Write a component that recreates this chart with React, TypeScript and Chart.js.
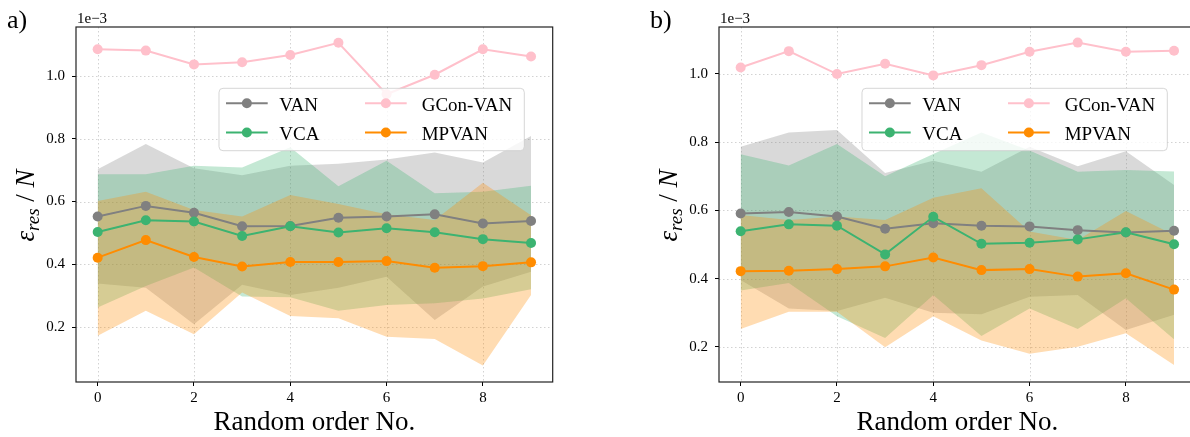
import React, { useEffect, useRef } from "react";
import { Chart, registerables } from "chart.js";

Chart.register(...registerables);

const FONT = '"Liberation Serif", "Times New Roman", serif';

// ---------- data ----------
const xValues = [0, 1, 2, 3, 4, 5, 6, 7, 8, 9];
const xTicks = [0, 2, 4, 6, 8];
const yTicks = [0.2, 0.4, 0.6, 0.8, 1.0];
const seriesNames = ["VAN", "VCA", "GCon-VAN", "MPVAN"];
const seriesColors = ["#808080", "#3CB371", "#FFC0CB", "#FF8C00"];
const bandColors = ["rgba(128,128,128,0.3)", "rgba(60,179,113,0.3)", "rgba(255,192,203,0.3)", "rgba(255,140,0,0.3)"];

// panel a)
const aVAN = [0.552, 0.586, 0.564, 0.521, 0.522, 0.548, 0.552, 0.559, 0.530, 0.538];
const aVCA = [0.503, 0.540, 0.536, 0.490, 0.521, 0.501, 0.515, 0.502, 0.480, 0.468];
const aGCon = [1.085, 1.081, 1.037, 1.044, 1.067, 1.106, 0.942, 1.004, 1.085, 1.062];
const aMPVAN = [0.421, 0.477, 0.423, 0.393, 0.407, 0.407, 0.410, 0.389, 0.394, 0.406];
const aVANHi = [0.703, 0.783, 0.706, 0.684, 0.714, 0.720, 0.734, 0.756, 0.724, 0.809];
const aVANLo = [0.339, 0.325, 0.209, 0.335, 0.302, 0.325, 0.360, 0.222, 0.329, 0.376];
const aVCAHi = [0.687, 0.687, 0.714, 0.708, 0.773, 0.649, 0.730, 0.626, 0.631, 0.650];
const aVCALo = [0.262, 0.331, 0.390, 0.297, 0.295, 0.252, 0.270, 0.276, 0.291, 0.320];
const aMPHi = [0.602, 0.631, 0.573, 0.552, 0.621, 0.592, 0.559, 0.541, 0.660, 0.556];
const aMPLo = [0.172, 0.252, 0.177, 0.310, 0.235, 0.228, 0.169, 0.162, 0.077, 0.302];

// panel b)
const bVAN = [0.591, 0.595, 0.582, 0.546, 0.562, 0.555, 0.553, 0.542, 0.535, 0.540];
const bVCA = [0.539, 0.559, 0.555, 0.471, 0.581, 0.502, 0.505, 0.515, 0.536, 0.501];
const bGCon = [1.018, 1.066, 0.999, 1.029, 0.995, 1.025, 1.064, 1.091, 1.064, 1.067];
const bMPVAN = [0.422, 0.423, 0.428, 0.436, 0.462, 0.425, 0.428, 0.406, 0.416, 0.368];
const bVANHi = [0.786, 0.828, 0.835, 0.709, 0.745, 0.713, 0.786, 0.729, 0.773, 0.674];
const bVANLo = [0.396, 0.313, 0.305, 0.344, 0.300, 0.296, 0.347, 0.352, 0.250, 0.294];
const bVCAHi = [0.764, 0.731, 0.794, 0.700, 0.765, 0.828, 0.775, 0.713, 0.718, 0.714];
const bVCALo = [0.365, 0.387, 0.290, 0.226, 0.352, 0.232, 0.313, 0.253, 0.343, 0.223];
const bMPHi = [0.586, 0.572, 0.582, 0.572, 0.637, 0.665, 0.538, 0.513, 0.598, 0.528];
const bMPLo = [0.253, 0.303, 0.303, 0.199, 0.290, 0.219, 0.180, 0.201, 0.240, 0.147];

const xTitle = "Random order No.";
const offsetText = "1e\u22123";

type Panel = {
  label: string;
  yMin: number;
  yMax: number;
  means: number[][];
  bands: ([number[], number[]] | null)[];
};

const panelA: Panel = {
  label: "a)",
  yMin: 0.0247,
  yMax: 1.1562,
  means: [aVAN, aVCA, aGCon, aMPVAN],
  bands: [[aVANHi, aVANLo], [aVCAHi, aVCALo], null, [aMPHi, aMPLo]],
};
const panelB: Panel = {
  label: "b)",
  yMin: 0.0975,
  yMax: 1.1367,
  means: [bVAN, bVCA, bGCon, bMPVAN],
  bands: [[bVANHi, bVANLo], [bVCAHi, bVCALo], null, [bMPHi, bMPLo]],
};

const toPts = (arr: number[]) => arr.map((v, i) => ({ x: xValues[i], y: v }));

function buildDatasets(p: Panel) {
  const ds: any[] = [];
  p.bands.forEach((b, i) => {
    if (!b) return;
    ds.push({
      data: toPts(b[0]),
      fill: "+1",
      backgroundColor: bandColors[i],
      borderColor: "rgba(0,0,0,0)",
      borderWidth: 0,
      pointRadius: 0,
      order: 20 - i,
    });
    ds.push({
      data: toPts(b[1]),
      fill: false,
      borderColor: "rgba(0,0,0,0)",
      borderWidth: 0,
      pointRadius: 0,
      order: 20 - i,
    });
  });
  p.means.forEach((m, i) => {
    ds.push({
      label: seriesNames[i],
      data: toPts(m),
      fill: false,
      borderColor: seriesColors[i],
      backgroundColor: seriesColors[i],
      borderWidth: 2,
      pointRadius: 5,
      pointBorderWidth: 0,
      pointBackgroundColor: seriesColors[i],
      order: 5 - i,
    });
  });
  return ds;
}

function decorPlugin(p: Panel) {
  return {
    id: "decor",
    beforeDatasetsDraw(chart: any) {
      const { ctx, chartArea: ca, scales } = chart;
      ctx.save();
      ctx.strokeStyle = "#d2d2d2";
      ctx.lineWidth = 1;
      ctx.setLineDash([1.5, 2.5]);
      xTicks.forEach((v) => {
        const x = Math.round(scales.x.getPixelForValue(v)) + 0.5;
        ctx.beginPath();
        ctx.moveTo(x, ca.top);
        ctx.lineTo(x, ca.bottom);
        ctx.stroke();
      });
      yTicks.forEach((v) => {
        const y = Math.round(scales.y.getPixelForValue(v)) + 0.5;
        ctx.beginPath();
        ctx.moveTo(ca.left, y);
        ctx.lineTo(ca.right, y);
        ctx.stroke();
      });
      ctx.restore();
    },
    afterDraw(chart: any) {
      const { ctx, chartArea: ca } = chart;
      const L = ca.left, R = ca.right, T = ca.top, B = ca.bottom;
      ctx.save();
      // frame
      ctx.strokeStyle = "#222";
      ctx.lineWidth = 1.2;
      ctx.setLineDash([]);
      ctx.strokeRect(L, T, R - L, B - T);

      // legend
      const bx1 = L + 143, bx2 = R - 28.4, by1 = 88.3, by2 = 150.7;
      ctx.beginPath();
      (ctx as any).roundRect(bx1, by1, bx2 - bx1, by2 - by1, 4);
      ctx.fillStyle = "rgba(255,255,255,0.8)";
      ctx.fill();
      ctx.strokeStyle = "rgba(204,204,204,0.8)";
      ctx.lineWidth = 1;
      ctx.stroke();
      const rows = [103.3, 132.5];
      const baselines = [111, 140];
      const cols = [
        { lx: L + 150, tx: L + 203.3, items: [0, 1] },
        { lx: L + 289, tx: L + 345.7, items: [2, 3] },
      ];
      ctx.font = `19px ${FONT}`;
      ctx.textAlign = "left";
      ctx.textBaseline = "alphabetic";
      cols.forEach((c) => {
        c.items.forEach((si, r) => {
          const y = rows[r];
          ctx.strokeStyle = seriesColors[si];
          ctx.lineWidth = 2;
          ctx.beginPath();
          ctx.moveTo(c.lx, y);
          ctx.lineTo(c.lx + 41.7, y);
          ctx.stroke();
          ctx.fillStyle = seriesColors[si];
          ctx.beginPath();
          ctx.arc(c.lx + 20.85, y, 5, 0, Math.PI * 2);
          ctx.fill();
          ctx.fillStyle = "#000";
          ctx.fillText(seriesNames[si], c.tx, baselines[r]);
        });
      });

      // x title
      ctx.fillStyle = "#000";
      ctx.font = `27px ${FONT}`;
      ctx.textAlign = "center";
      ctx.fillText(xTitle, (L + R) / 2, 430);

      // offset text
      ctx.font = `15px ${FONT}`;
      ctx.textAlign = "left";
      ctx.fillText(offsetText, L + 1, 23);

      // panel label
      ctx.font = `26px ${FONT}`;
      ctx.fillText(p.label, 7, 28);

      // y label: ε_res / N
      ctx.save();
      ctx.translate(L - 42, (T + B) / 2 + 1);
      ctx.rotate(-Math.PI / 2);
      const big = `italic 27px ${FONT}`;
      const small = `italic 19px ${FONT}`;
      const norm = `27px ${FONT}`;
      const parts = [
        { t: "\u03B5", f: big, dy: 0 },
        { t: "res", f: small, dy: 5 },
        { t: " / ", f: norm, dy: 0 },
        { t: "N", f: big, dy: 0 },
      ];
      let total = 0;
      parts.forEach((pt) => {
        ctx.font = pt.f;
        total += ctx.measureText(pt.t).width;
      });
      let x = -total / 2;
      ctx.textAlign = "left";
      parts.forEach((pt) => {
        ctx.font = pt.f;
        ctx.fillText(pt.t, x, pt.dy);
        x += ctx.measureText(pt.t).width;
      });
      ctx.restore();
      ctx.restore();
    },
  };
}

function PanelChart({ panel, left }: { panel: Panel; left: number }) {
  const ref = useRef<HTMLCanvasElement | null>(null);
  useEffect(() => {
    if (!ref.current) return;
    const tickFont = { family: FONT, size: 15 };
    const gridOpts = {
      display: true,
      drawOnChartArea: false,
      drawTicks: true,
      tickLength: 4,
      tickColor: "#000",
      tickWidth: 1,
    };
    const chart = new Chart(ref.current, {
      type: "line",
      data: { datasets: buildDatasets(panel) },
      options: {
        responsive: false,
        animation: false,
        devicePixelRatio: 1,
        layout: { padding: { left: 0, right: 27.3, top: 27, bottom: 0 } },
        plugins: {
          legend: { display: false },
          tooltip: { enabled: false },
          title: { display: false },
        },
        scales: {
          x: {
            type: "linear",
            min: -0.45,
            max: 9.45,
            afterBuildTicks: (s: any) => {
              s.ticks = xTicks.map((v) => ({ value: v }));
            },
            afterFit: (s: any) => {
              s.height = 55;
            },
            grid: gridOpts,
            border: { display: false },
            ticks: {
              font: tickFont,
              color: "#000",
              padding: 3,
              maxRotation: 0,
              autoSkip: false,
              callback: (v: any) => String(v),
            },
          },
          y: {
            type: "linear",
            min: panel.yMin,
            max: panel.yMax,
            afterBuildTicks: (s: any) => {
              s.ticks = yTicks.map((v) => ({ value: v }));
            },
            afterFit: (s: any) => {
              s.width = 76;
            },
            grid: gridOpts,
            border: { display: false },
            ticks: {
              font: tickFont,
              color: "#000",
              padding: 7,
              autoSkip: false,
              callback: (v: any) => Number(v).toFixed(1),
            },
          },
        },
      } as any,
      plugins: [decorPlugin(panel)],
    });
    return () => chart.destroy();
  }, [panel]);
  return (
    <canvas
      ref={ref}
      width={580}
      height={437}
      style={{ position: "absolute", left, top: 0, width: 580, height: 437 }}
    />
  );
}

export default function App() {
  return (
    <div
      style={{
        position: "absolute",
        left: 0,
        top: 0,
        width: 1190,
        height: 437,
        overflow: "hidden",
        background: "#fff",
      }}
    >
      <PanelChart panel={panelA} left={0} />
      <PanelChart panel={panelB} left={643} />
    </div>
  );
}
